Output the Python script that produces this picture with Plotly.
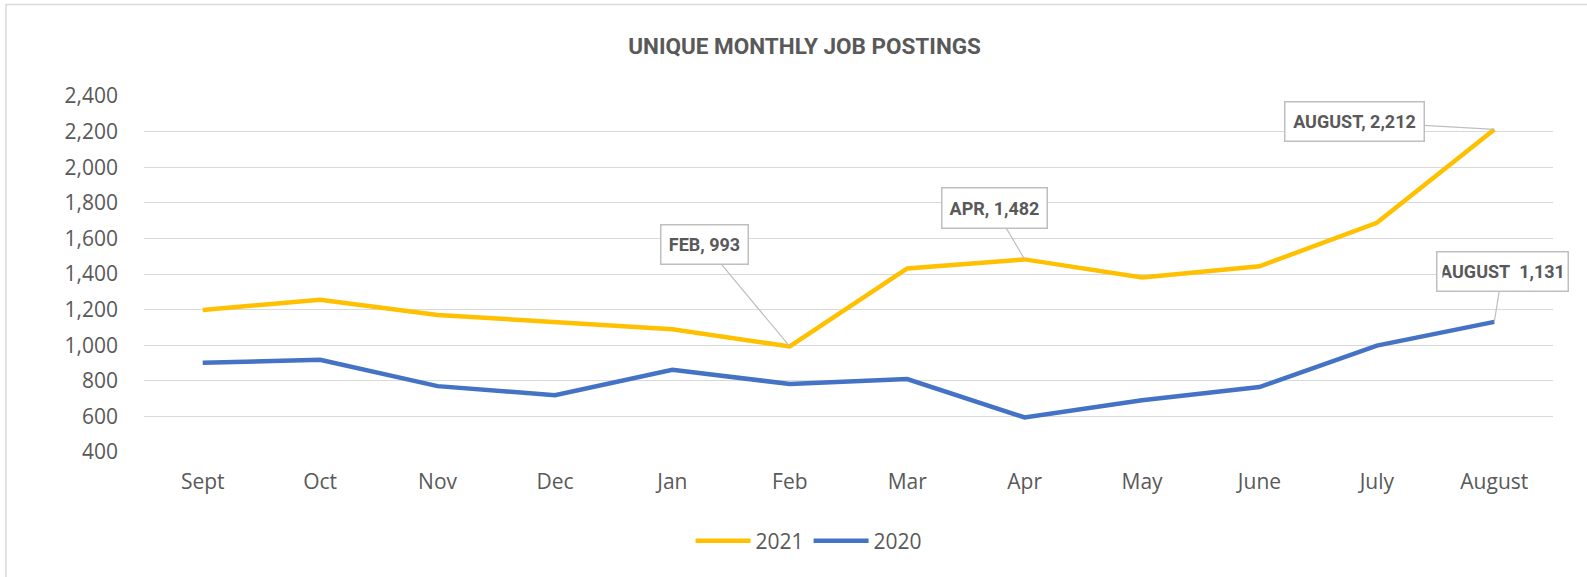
import plotly.graph_objects as go

months = ["Sept", "Oct", "Nov", "Dec", "Jan", "Feb", "Mar", "Apr", "May", "June", "July", "August"]
y2021 = [1198, 1255, 1170, 1130, 1090, 993, 1431, 1482, 1380, 1443, 1688, 2212]
y2020 = [901, 918, 770, 719, 862, 782, 810, 594, 691, 765, 998, 1131]
y_ticks = [400, 600, 800, 1000, 1200, 1400, 1600, 1800, 2000, 2200, 2400]

# (month, value, label, tail dx, tail dy, box width, box height)
callouts = [
    ("Feb", 993, "FEB, 993", -85, -102, 88, 40),
    ("Apr", 1482, "APR, 1,482", -30, -51, 106, 41),
    ("August", 2212, "AUGUST, 2,212", -140, -8, 140, 40),
    ("August", 1131, "AUGUST&nbsp;&nbsp;1,131", 8, -50, 132, 40),
]

TXT = "#595959"
COND = "Roboto, Liberation Sans, sans-serif"

fig = go.Figure()
fig.add_trace(go.Scatter(x=months, y=y2021, name="2021", mode="lines",
                         line=dict(color="#FFC000", width=4.5)))
fig.add_trace(go.Scatter(x=months, y=y2020, name="2020", mode="lines",
                         line=dict(color="#4472C4", width=4.5)))

anns = []
for xm, yv, txt, ax, ay, bw, bh in callouts:
    anns.append(dict(x=xm, y=yv, xref="x", yref="y", text="<b>%s</b>" % txt,
                     showarrow=True, arrowhead=0, arrowwidth=1.2, arrowcolor="#bfbfbf",
                     ax=ax, ay=ay, width=bw - 12, height=bh - 12, align="center",
                     valign="middle",
                     bordercolor="#bfbfbf", borderwidth=1.5, borderpad=5,
                     bgcolor="white", font=dict(family=COND, size=18, color=TXT)))

fig.update_layout(
    width=1587, height=577,
    paper_bgcolor="white", plot_bgcolor="white",
    margin=dict(l=144, r=34, t=96, b=125),
    title=dict(text="<b>UNIQUE MONTHLY JOB POSTINGS</b>", x=0.507, xanchor="center",
               y=0.92, yanchor="middle",
               font=dict(family=COND, size=22.5, color=TXT)),
    xaxis=dict(type="category", range=[-0.5, 11.5], showgrid=False, showline=False,
               zeroline=False, ticks="", ticklabelstandoff=15,
               tickfont=dict(family="Open Sans", size=21, color=TXT)),
    yaxis=dict(range=[400, 2400], tickvals=y_ticks, tickformat=",", showgrid=True,
               gridcolor="#d9d9d9", gridwidth=1.3, zeroline=False, showline=False,
               ticks="", ticklabelstandoff=25,
               tickfont=dict(family="Open Sans", size=21, color=TXT)),
    legend=dict(orientation="h", x=0.472, xanchor="center", y=-0.25, yanchor="middle",
                font=dict(family="Open Sans", size=21, color=TXT), itemwidth=55),
    annotations=anns,
    shapes=[dict(type="rect", xref="paper", yref="paper", x0=-0.098, x1=1.05,
                 y0=-0.4, y1=1.257, line=dict(color="#d9d9d9", width=1.5),
                 fillcolor="rgba(0,0,0,0)", layer="below")],
)

fig.write_html("out.html", config={"displayModeBar": False},
               post_script="document.body.style.margin='0px';")
